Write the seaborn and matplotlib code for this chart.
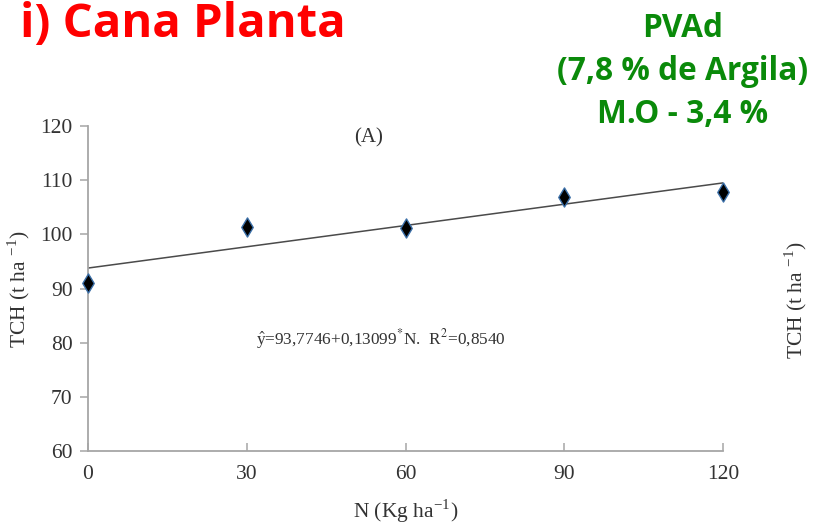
import numpy as np
import pandas as pd
import matplotlib
matplotlib.use("Agg")
import matplotlib.pyplot as plt
import seaborn as sns

# Nitrogen doses (kg/ha) and cane yield (t/ha)
n_doses = [0, 30, 60, 90, 120]
tch = [91.0, 101.4, 101.2, 106.9, 107.9]

# Fitted linear model
intercept = 93.7746
slope = 0.13099
r2 = 0.8540

x_ticks = [0, 30, 60, 90, 120]
y_ticks = [60, 70, 80, 90, 100, 110, 120]

sns.set_theme(style="white")
plt.rcParams["font.family"] = ["Liberation Serif", "DejaVu Serif"]
plt.rcParams["mathtext.fontset"] = "stix"

fig = plt.figure(figsize=(8.13, 5.28), dpi=100)
ax = fig.add_axes([88 / 813, 1 - 451 / 528, 635 / 813, 325 / 528])

df = pd.DataFrame({"N": n_doses, "TCH": tch})
fit = pd.DataFrame({"N": [min(n_doses), max(n_doses)]})
fit["TCH"] = intercept + slope * fit["N"]

sns.lineplot(data=fit, x="N", y="TCH", ax=ax, color="#4a4a4a", linewidth=1.1)
sns.scatterplot(data=df, x="N", y="TCH", ax=ax, marker="d", s=95,
                color="black", edgecolor="#3b6fa8", linewidth=1.0, zorder=5,
                clip_on=False)

ax.set_xlim(0, 120)
ax.set_ylim(60, 120)
ax.set_xticks(x_ticks)
ax.set_yticks(y_ticks)
ax.set_xticklabels([str(v) for v in x_ticks])
ax.set_yticklabels([str(v) for v in y_ticks])

for side in ["top", "right"]:
    ax.spines[side].set_visible(False)
for side in ["left", "bottom"]:
    ax.spines[side].set_color("#a6a6a6")
    ax.spines[side].set_linewidth(1.3)

ax.tick_params(axis="y", direction="out", length=6, width=1.1, color="#a6a6a6",
               labelsize=15.5, labelcolor="#333333", pad=5, left=True)
ax.tick_params(axis="x", direction="in", length=6, width=1.1, color="#a6a6a6",
               labelsize=15.5, labelcolor="#333333", pad=10, bottom=True)

ax.set_xlabel(r"N (Kg ha$^{\mathregular{-1}}$)", fontsize=15.5, color="#333333", labelpad=10)
ax.set_ylabel(r"TCH (t ha $^{\mathregular{-1}}$)", fontsize=15.5, color="#333333", labelpad=6)

ax.text(0.442, 0.965, "(A)", transform=ax.transAxes, fontsize=15,
        color="#333333", ha="center", va="center")
eq = (r"$\hat{\mathregular{y}}$=93,7746+0,13099$^{*}$N.  R$^{2}$=0,8540")
ax.text(0.462, 0.345, eq, transform=ax.transAxes, fontsize=12.4,
        color="#333333", ha="center", va="center")

# Neighbouring panel's axis label at the right edge
fig.text(796 / 813, 1 - 300 / 528, r"TCH (t ha $^{\mathregular{-1}}$)", rotation=90,
         fontsize=15.5, color="#333333", ha="center", va="center")

fig.text(20 / 813, 1 - 37 / 528, "i) Cana Planta", fontsize=34, fontweight="bold",
         color="#ff0000", family="Open Sans", ha="left", va="baseline")

green = "#0a8a0a"
for txt, yb in [("PVAd", 37), ("(7,8 % de Argila)", 80), ("M.O - 3,4 %", 123)]:
    fig.text(683 / 813, 1 - yb / 528, txt, fontsize=22.8, fontweight="bold",
             color=green, family="Open Sans", ha="center", va="baseline")

fig.savefig("out.png", dpi=100)
